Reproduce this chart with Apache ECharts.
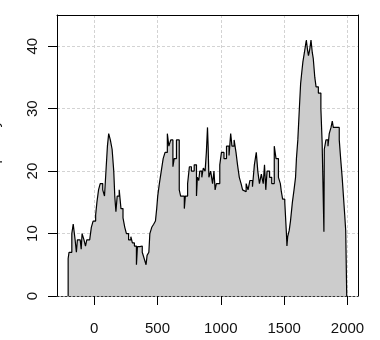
<!DOCTYPE html>
<html><head><meta charset="utf-8">
<script src="https://cdn.jsdelivr.net/npm/echarts@6/dist/echarts.min.js"></script>
<style>html,body{margin:0;padding:0;background:#fff}#c{width:380px;height:340px}</style>
</head><body><div id="c"></div>
<script>
const years = [-205,-205,-198,-176,-165,-150,-140,-132,-110,-102,-95,-80,-68,-58,-35,-22,-8,12,22,35,48,68,82,92,105,115,128,142,155,163,172,182,198,212,228,242,255,272,290,302,318,334,342,362,380,395,410,418,432,440,455,470,484,494,502,515,530,545,560,578,590,605,622,632,650,672,683,712,720,738,752,768,790,808,815,826,834,850,862,876,886,895,900,906,920,935,946,955,965,992,1005,1025,1045,1065,1078,1088,1105,1120,1132,1146,1160,1172,1186,1200,1215,1230,1250,1265,1280,1292,1305,1320,1335,1345,1355,1365,1385,1402,1422,1436,1455,1470,1478,1488,1505,1518,1522,1528,1540,1550,1565,1578,1590,1597,1608,1620,1630,1640,1648,1660,1675,1684,1692,1702,1712,1722,1730,1742,1752,1770,1790,1800,1814,1817,1830,1846,1856,1870,1880,1888,1935,1946,1958,1968,1978,1986,1994];
const counts = [0,6,7,10,11.5,9,7,9,9,7.5,10,9,8,9,9,11,12,13,15,17,18,17,16,19.5,24,26,25,23.5,20,16,13.5,16,17,14,12.5,11,10,9,9.5,8.5,8,5,7.9,8,7,6,5,6.5,7,10,11,11.5,12,14,16,18,20,22,23,26,24,25,20.7,22,25,17,16,14,16,18,20.7,20,21,16,19,18.5,20,19,20.5,20,23,27,24,19,20,18,20,17,18,21,23,22,24,22.5,26,24,25,23,21,19,18,17,16.7,18,17,18.5,17.5,21,23,20,18,19.5,18,21,17,20,19,18,24,22,19,18,16.7,15.5,15,10,8,9.5,10.5,12,15,17,19,22,25,30,34,36,37.5,39,41,39.5,38.5,39.5,41,39,38,35,33.5,32.5,30,24.5,10.3,23.5,25,24,26,27,28,27,25,22,19,16,13,10.5,0];
const xTicks = [0,500,1000,1500,2000];
const yTicks = [0,10,20,30,40];
const yTitle = 'Frequency';

const font = '"Liberation Sans", Arial, sans-serif';
const chart = echarts.init(document.getElementById('c'), null, {renderer:'canvas'});
chart.setOption({
  animation:false,
  backgroundColor:'#fff',
  grid:{left:57,right:22,top:15,bottom:44,containLabel:false,outerBoundsMode:'none'},
  xAxis:[
    {type:'value',min:-293,max:2083,position:'bottom',z:5,
     axisLine:{show:true,onZero:false,lineStyle:{color:'#333',type:[2,2],width:1}},
     axisTick:{show:true,length:9,customValues:xTicks,lineStyle:{color:'#000'}},
     axisLabel:{customValues:xTicks,margin:25,fontSize:15,color:'#111',fontFamily:font,
       formatter:v=>String(v)},
     splitLine:{show:false}},
    {type:'value',min:-293,max:2083,position:'top',
     axisLine:{show:true,onZero:false,lineStyle:{color:'#000',width:1}},
     axisTick:{show:false,customValues:xTicks},
     axisLabel:{show:false,customValues:xTicks},
     splitLine:{show:true,lineStyle:{color:'#d3d3d3',type:[3,2],width:1}}}
  ],
  yAxis:[
    {type:'value',min:0,max:45,position:'left',
     name:yTitle,nameLocation:'middle',nameGap:55,
     nameTextStyle:{fontSize:15,color:'#111',fontFamily:font},
     axisLine:{show:true,onZero:false,lineStyle:{color:'#000',width:1}},
     axisTick:{show:true,length:9,customValues:yTicks,lineStyle:{color:'#000'}},
     axisLabel:{customValues:yTicks,rotate:90,margin:17,fontSize:15,color:'#111',fontFamily:font,
       formatter:v=>String(v)},
     splitLine:{show:true,lineStyle:{color:'#d3d3d3',type:[3,2],width:1}}},
    {type:'value',min:0,max:45,position:'right',
     axisLine:{show:true,onZero:false,lineStyle:{color:'#000',width:1}},
     axisTick:{show:false},axisLabel:{show:false},splitLine:{show:false}}
  ],
  series:[{
    type:'line',step:'end',xAxisIndex:0,yAxisIndex:0,
    data:years.map((y,i)=>[y,counts[i]]),
    symbol:'none',
    lineStyle:{color:'#000',width:1.2},
    areaStyle:{color:'#cccccc',opacity:1}
  }]
});
</script></body></html>
